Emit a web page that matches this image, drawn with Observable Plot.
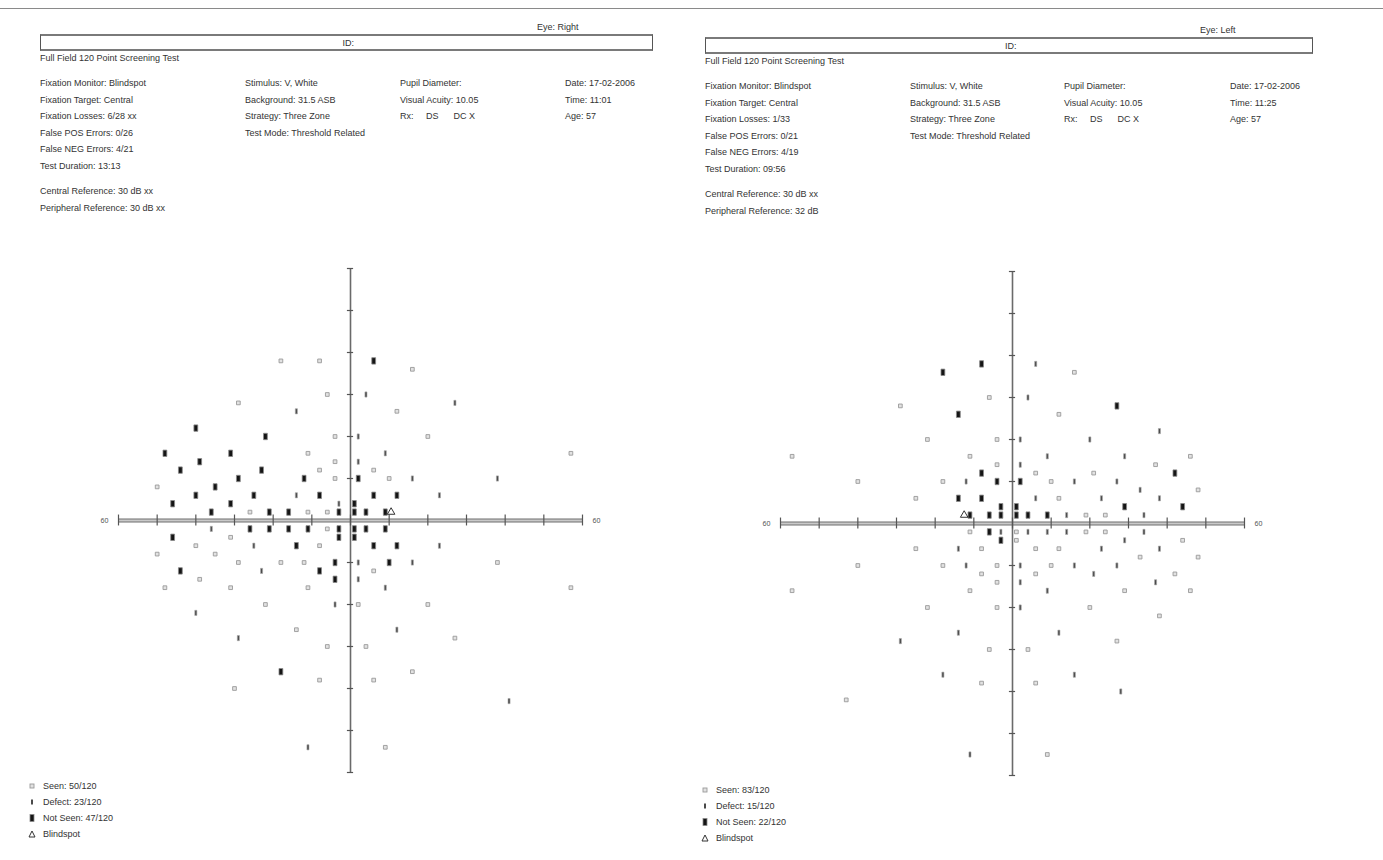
<!DOCTYPE html>
<html><head><meta charset="utf-8">
<script src="https://cdn.jsdelivr.net/npm/d3@7"></script>
<script src="https://cdn.jsdelivr.net/npm/@observablehq/plot@0.6"></script>
<style>
body{margin:0;background:#fff;width:1383px;height:860px;position:relative;overflow:hidden;font-family:"Liberation Sans",Arial,sans-serif;color:#333}
.t{position:absolute;font-size:9px;white-space:pre;line-height:10px}
.box{position:absolute;border-top:2px solid #7a7a7a;border-bottom:2px solid #7a7a7a;border-left:1.5px solid #555;border-right:1.5px solid #555;box-sizing:border-box}
.plot{position:absolute}
.leg{position:absolute;font-size:9px;line-height:16px;white-space:pre}
.leg div{display:flex;align-items:center;height:16px}
.leg svg{width:14px;height:10px;flex:none}
#topline{position:absolute;left:0;top:8px;width:1383px;height:1px;background:#8a8a8a}
</style></head><body>
<div id="topline"></div>
<script>
// ---------------- data ----------------
const axisTicks = [-60,-50,-40,-30,-20,-10,0,10,20,30,40,50,60];
const endLabels = ["60","60"];

// Eye: Right (left panel) — positions in degrees [x, y]
const rightEyeSeen = [[-18,38],[-8,38],[-6,30],[-29,28],[-4,20],[-11,16],[-4,14],[-8,12],[-4,10],[-50,8],[-26,2],[-11,2],[-6,2],[-6,-2],[-31,-4],[-40,-6],[-8,-6],[-50,-8],[-35,-8],[-29,-10],[-18,-10],[-12,-10],[-39,-14],[-48,-16],[-31,-16],[-11,-16],[-22,-20],[2,-20],[-14,-26],[-6,-30],[-8,-38],[-30,-40],[16,36],[12,26],[20,20],[57,16],[6,12],[10,10],[38,-10],[6,-12],[57,-16],[20,-20],[27,-28],[4,-30],[16,-36],[6,-38],[9,-54]];
const rightEyeDefect = [[-14,26],[-14,6],[-3,4],[-36,-2],[-25,-6],[2,-10],[-23,-12],[-4,-20],[-40,-22],[-29,-28],[-11,-54],[4,30],[27,28],[2,20],[9,16],[2,14],[16,10],[38,10],[23,6],[23,-6],[16,-10],[2,-14],[9,-16],[12,-26],[41,-43]];
const rightEyeNotSeen = [[-40,22],[-22,20],[-48,16],[-31,16],[-39,14],[-44,12],[-23,12],[-29,10],[-12,10],[2,10],[-35,8],[-40,6],[-25,6],[-8,6],[-46,4],[-31,4],[1,4],[-36,2],[-21,2],[-16,2],[-3,2],[1,2],[-26,-2],[-21,-2],[-16,-2],[-11,-2],[-3,-2],[-3,-4],[1,-2],[1,-4],[-46,-4],[-14,-6],[-4,-10],[-44,-12],[-8,-12],[-4,-14],[-18,-36],[6,38],[6,6],[12,6],[4,2],[9,2],[4,-2],[9,-2],[6,-6],[12,-6],[10,-10]];
const rightEyeBlindspot = [[10.5,2]];

// Eye: Left (right panel)
const leftEyeSeen = [[-6,30],[-29,28],[-22,20],[-4,20],[-57,16],[-11,16],[-4,14],[-40,10],[-18,10],[-25,6],[16,36],[12,26],[46,16],[6,12],[21,12],[37,14],[10,10],[48,8],[12,6],[19,2],[24,2],[-11,-2],[1,-2],[1,-4],[-25,-6],[-8,-6],[-40,-10],[-18,-10],[-4,-10],[-8,-12],[-4,-14],[-57,-16],[-11,-16],[-22,-20],[-4,-20],[-6,-30],[-8,-38],[-43,-42],[19,-2],[24,-2],[44,-4],[6,-6],[12,-6],[33,-8],[48,-8],[10,-10],[6,-12],[42,-12],[29,-16],[46,-16],[20,-20],[38,-22],[27,-28],[4,-30],[6,-38],[9,-55]];
const leftEyeDefect = [[-12,10],[6,38],[4,30],[38,22],[2,20],[20,20],[9,16],[29,16],[2,14],[16,10],[27,10],[33,8],[6,6],[23,6],[38,6],[14,2],[34,2],[-3,-2],[-14,-6],[-12,-10],[-14,-26],[-29,-28],[-18,-36],[-11,-55],[4,-2],[9,-2],[14,-2],[34,-2],[29,-4],[23,-6],[38,-6],[2,-10],[16,-10],[27,-10],[21,-12],[2,-14],[37,-14],[9,-16],[2,-20],[12,-26],[16,-36],[28,-40]];
const leftEyeNotSeen = [[-8,38],[-18,36],[-14,26],[27,28],[-8,12],[-4,10],[2,10],[-14,6],[-8,6],[-3,4],[1,4],[-11,2],[-6,2],[-3,2],[1,2],[42,12],[4,2],[9,2],[29,4],[44,4],[-6,-2],[-3,-4]];
const leftEyeBlindspot = [[-12.5,2]];

// header texts
const rightEyeTitle = "Eye: Right";
const leftEyeTitle = "Eye: Left";
const testName = "Full Field 120 Point Screening Test";
const rightEyeCol1 = ["Fixation Monitor: Blindspot","Fixation Target: Central","Fixation Losses: 6/28 xx","False POS Errors: 0/26","False NEG Errors: 4/21","Test Duration: 13:13"];
const rightEyeRefs = ["Central Reference: 30 dB xx","Peripheral Reference: 30 dB xx"];
const rightEyeCol2 = ["Stimulus: V, White","Background: 31.5 ASB","Strategy: Three Zone","Test Mode: Threshold Related"];
const rightEyeCol3 = ["Pupil Diameter:","Visual Acuity: 10.05","Rx:     DS      DC X"];
const rightEyeCol4 = ["Date: 17-02-2006","Time: 11:01","Age: 57"];
const leftEyeCol1 = ["Fixation Monitor: Blindspot","Fixation Target: Central","Fixation Losses: 1/33","False POS Errors: 0/21","False NEG Errors: 4/19","Test Duration: 09:56"];
const leftEyeRefs = ["Central Reference: 30 dB xx","Peripheral Reference: 32 dB"];
const leftEyeCol2 = ["Stimulus: V, White","Background: 31.5 ASB","Strategy: Three Zone","Test Mode: Threshold Related"];
const leftEyeCol3 = ["Pupil Diameter:","Visual Acuity: 10.05","Rx:     DS      DC X"];
const leftEyeCol4 = ["Date: 17-02-2006","Time: 11:25","Age: 57"];
const legendLabels = ["Seen","Defect","Not Seen","Blindspot"];
const rightEyeCounts = ["50/120","23/120","47/120"];
const leftEyeCounts = ["83/120","15/120","22/120"];

// ---------------- drawing ----------------
const barSymbol = {draw(ctx, size){const r=Math.sqrt(size/Math.PI);const w=r*0.6,h=r;ctx.moveTo(-w,-h);ctx.lineTo(w,-h);ctx.lineTo(w,h);ctx.lineTo(-w,h);ctx.closePath();}};
const tickSymbol = {draw(ctx, size){const r=Math.sqrt(size/Math.PI);const w=r*0.4,h=r;ctx.moveTo(-w,-h);ctx.lineTo(w,-h);ctx.lineTo(w,h);ctx.lineTo(-w,h);ctx.closePath();}};

function field(seen, defect, notSeen, blind){
  const X = d => d[0], Y = d => d[1];
  return Plot.plot({
    width: 524, height: 524,
    marginLeft: 30, marginRight: 30, marginTop: 10, marginBottom: 10,
    x: {domain: [-60, 60], axis: null},
    y: {domain: [-60, 60], axis: null},
    style: {background: "transparent", overflow: "visible"},
    marks: [
      Plot.ruleY([0], {x1: -60, x2: 60, stroke: "#6e6e6e", strokeWidth: 4}),
      Plot.ruleY([0], {x1: -60, x2: 60, stroke: "#c9c9c9", strokeWidth: 2}),
      Plot.ruleX([0], {y1: -60, y2: 60, stroke: "#6a6a6a", strokeWidth: 1.6}),
      Plot.ruleX(axisTicks, {x: d => d, y1: -1.3, y2: 1.3, stroke: "#555", strokeWidth: 1.2}),
      Plot.ruleY(axisTicks.filter(d => d !== 0), {y: d => d, x1: -0.8, x2: 0.8, stroke: "#555", strokeWidth: 1.2}),
      Plot.text([-60], {x: d => d, y: 0, text: () => endLabels[0], dx: -10, textAnchor: "end", fontSize: 7, fill: "#555"}),
      Plot.text([60], {x: d => d, y: 0, text: () => endLabels[1], dx: 10, textAnchor: "start", fontSize: 7, fill: "#555"}),
      Plot.dot(seen, {x: X, y: Y, symbol: "square", r: 2.1, fill: "#e2e2e2", stroke: "#9a9a9a", strokeWidth: 0.9}),
      Plot.dot(defect, {x: X, y: Y, symbol: tickSymbol, r: 2.6, fill: "#4a4a4a", stroke: "#aaa", strokeWidth: 0.6}),
      Plot.dot(notSeen, {x: X, y: Y, symbol: barSymbol, r: 3.2, fill: "#151515", stroke: "#8a8a8a", strokeWidth: 0.8}),
      Plot.dot(blind, {x: X, y: Y, symbol: "triangle", r: 2.8, fill: "none", stroke: "#333", strokeWidth: 1})
    ]
  });
}

function addText(txt, left, top, extra){
  const d = document.createElement("div");
  d.className = "t"; d.textContent = txt;
  d.style.left = left + "px"; d.style.top = (top - 5) + "px";
  if (extra) Object.assign(d.style, extra);
  document.body.appendChild(d);
}
function addBox(left, top, width, height){
  const d = document.createElement("div");
  d.className = "box";
  Object.assign(d.style, {left: left+"px", top: top+"px", width: width+"px", height: height+"px"});
  document.body.appendChild(d);
}
function header(p){
  addText(p.title, p.eyeX, p.top + 0);
  addBox(p.x0, p.top + 7, p.x1 - p.x0, 17);
  addText("ID:", (p.x0 + p.x1)/2 - 4, p.top + 16);
  addText(testName, p.x0, p.top + 31);
  p.col1.forEach((s, i) => addText(s, p.x0, p.top + 56 + i*16.6));
  p.refs.forEach((s, i) => addText(s, p.x0, p.top + 164 + i*17));
  p.col2.forEach((s, i) => addText(s, p.c2, p.top + 56 + i*16.6));
  p.col3.forEach((s, i) => addText(s, p.c3, p.top + 56 + i*16.6));
  p.col4.forEach((s, i) => addText(s, p.c4, p.top + 56 + i*16.6));
}
header({title: rightEyeTitle, eyeX: 537, top: 27, x0: 40, x1: 653, c2: 245, c3: 400, c4: 565, col1: rightEyeCol1, refs: rightEyeRefs, col2: rightEyeCol2, col3: rightEyeCol3, col4: rightEyeCol4});
header({title: leftEyeTitle, eyeX: 1200, top: 30, x0: 705, x1: 1313, c2: 910, c3: 1064, c4: 1230, col1: leftEyeCol1, refs: leftEyeRefs, col2: leftEyeCol2, col3: leftEyeCol3, col4: leftEyeCol4});

function place(svg, left, top){
  svg.classList.add("plot");
  svg.style.left = left + "px"; svg.style.top = top + "px";
  document.body.appendChild(svg);
}
place(field(rightEyeSeen, rightEyeDefect, rightEyeNotSeen, rightEyeBlindspot), 88, 258);
place(field(leftEyeSeen, leftEyeDefect, leftEyeNotSeen, leftEyeBlindspot), 750, 260.5);

const legendIcons = [
  '<rect x="5" y="3" width="4" height="4" fill="#e2e2e2" stroke="#9a9a9a" stroke-width="0.9"/>',
  '<rect x="6" y="2.5" width="2" height="5" fill="#4a4a4a"/>',
  '<rect x="5" y="1.5" width="4" height="7" fill="#151515" stroke="#8a8a8a" stroke-width="0.8"/>',
  '<path d="M7 2 L10 8 L4 8 Z" fill="none" stroke="#333" stroke-width="1"/>'
];
function legend(left, top, counts){
  const g = document.createElement("div");
  g.className = "leg"; g.style.left = left + "px"; g.style.top = top + "px";
  legendLabels.forEach((lab, i) => {
    const row = document.createElement("div");
    const txt = i < 3 ? lab + ": " + counts[i] : lab;
    row.innerHTML = '<svg viewBox="0 0 14 10">' + legendIcons[i] + '</svg><span style="margin-left:4px">' + txt + '</span>';
    g.appendChild(row);
  });
  document.body.appendChild(g);
}
legend(25, 778, rightEyeCounts);
legend(698, 782, leftEyeCounts);
</script>
</body></html>
